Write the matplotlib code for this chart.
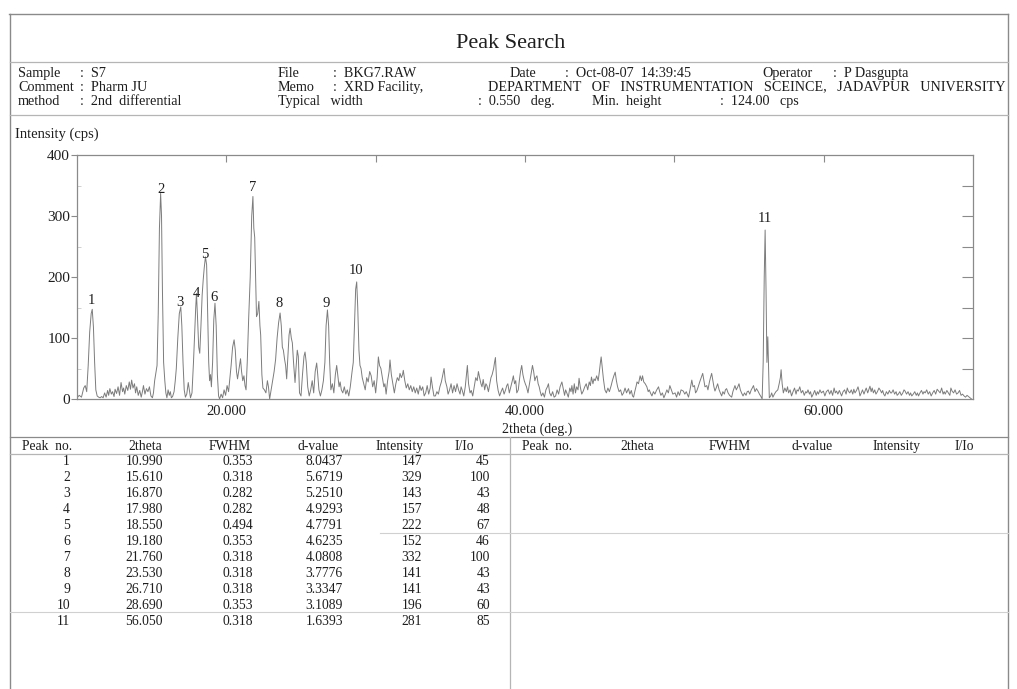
import matplotlib
matplotlib.use("Agg")
import matplotlib.pyplot as plt
from matplotlib.lines import Line2D

plt.rcParams['font.family'] = ['Liberation Serif', 'DejaVu Serif']

# ---------------- data ----------------
scan_2theta = [
    10.00, 10.15, 10.30, 10.45, 10.55, 10.65, 10.75, 10.85, 10.95, 11.02, 11.10, 11.18, 11.26, 11.35, 11.45, 11.55,
    11.65, 11.75, 11.85, 11.95, 12.05, 12.12, 12.20, 12.30, 12.38, 12.48,
    12.55, 12.65, 12.75, 12.85, 12.95, 13.05, 13.12, 13.20, 13.30, 13.40,
    13.50, 13.58, 13.66, 13.75, 13.85, 13.92, 14.00, 14.10, 14.20, 14.30,
    14.38, 14.45, 14.55, 14.65, 14.75, 14.85, 14.95, 15.05, 15.12,
    15.20, 15.28, 15.36, 15.44, 15.52, 15.60, 15.66, 15.72, 15.80, 15.88, 15.95, 16.02,
    16.10, 16.18, 16.25, 16.32, 16.40, 16.50, 16.58, 16.65, 16.75, 16.85, 16.95, 17.02,
    17.10, 17.18, 17.26, 17.35, 17.45, 17.52, 17.60, 17.70,
    17.80, 17.88, 17.95, 18.00, 18.06, 18.15, 18.22, 18.30, 18.38, 18.45, 18.52, 18.60,
    18.68, 18.75, 18.82, 18.88, 18.94, 19.00, 19.08, 19.16, 19.24, 19.32, 19.40, 19.48,
    19.55, 19.65, 19.75, 19.85, 19.95, 20.05, 20.15, 20.22, 20.32, 20.42, 20.52, 20.60,
    20.68, 20.75, 20.85, 20.95, 21.02, 21.10, 21.18, 21.25, 21.32, 21.40,
    21.50, 21.60, 21.70, 21.78, 21.84, 21.90, 21.96, 22.02, 22.10, 22.18, 22.25, 22.30,
    22.38, 22.45, 22.55, 22.65, 22.75, 22.82, 22.90, 23.00, 23.10, 23.20, 23.30, 23.40,
    23.50, 23.60, 23.68, 23.75, 23.82, 23.90, 23.97, 24.04, 24.12, 24.20, 24.27, 24.35,
    24.42, 24.50, 24.60, 24.68, 24.75, 24.82, 24.90, 25.00, 25.10, 25.20, 25.27, 25.35,
    25.45, 25.55, 25.65, 25.75, 25.85, 25.95, 26.05, 26.12, 26.20, 26.30, 26.40, 26.50,
    26.60, 26.68, 26.77, 26.85, 26.92, 27.00, 27.10, 27.20, 27.30, 27.39, 27.48, 27.55,
    27.62, 27.70, 27.80, 27.90, 28.00, 28.10, 28.20, 28.30, 28.42, 28.50, 28.58, 28.66,
    28.73, 28.80, 28.88, 28.95, 29.02, 29.10, 29.20, 29.30, 29.40, 29.50, 29.60, 29.70,
    29.80, 29.90, 30.00, 30.10, 30.18, 30.26, 30.35, 30.45, 30.55, 30.62, 30.70, 30.80,
    30.90, 30.96, 31.05, 31.15, 31.25, 31.35, 31.45, 31.55, 31.63, 31.72, 31.80, 31.85,
    31.95, 32.05, 32.15, 32.25, 32.35, 32.45, 32.55, 32.65, 32.75, 32.85, 32.96, 33.05,
    33.15, 33.25, 33.35, 33.45, 33.55, 33.65, 33.71, 33.80, 33.90, 34.00, 34.10, 34.20,
    34.30, 34.40, 34.50, 34.58, 34.66, 34.77, 34.85, 34.95, 35.05, 35.15, 35.25, 35.35,
    35.45, 35.55, 35.65, 35.72, 35.80, 35.90,
    36.00, 36.08, 36.14, 36.22, 36.32, 36.40, 36.50, 36.60, 36.70, 36.80, 36.88, 36.96,
    37.05, 37.12, 37.20, 37.30, 37.38, 37.45, 37.55, 37.65, 37.72, 37.80, 37.90, 37.96,
    38.02, 38.10, 38.20, 38.30, 38.40, 38.50, 38.60, 38.70, 38.78, 38.85, 38.95, 39.05,
    39.15, 39.22, 39.30, 39.38, 39.45, 39.55, 39.62, 39.70, 39.78, 39.86, 39.95, 40.02,
    40.10, 40.20, 40.30, 40.40, 40.50, 40.58, 40.66, 40.72, 40.80, 40.88, 40.95, 41.02,
    41.10, 41.20, 41.30, 41.40, 41.50, 41.57, 41.65, 41.75, 41.85, 41.95, 42.05, 42.15,
    42.25, 42.35, 42.47, 42.55, 42.65, 42.72, 42.80, 42.90, 43.00, 43.08, 43.14, 43.22,
    43.30, 43.38, 43.46, 43.55, 43.62, 43.70, 43.80, 43.90, 44.00, 44.10, 44.20, 44.30,
    44.38, 44.45, 44.55, 44.62, 44.70, 44.80, 44.90, 44.98, 45.05, 45.10, 45.18, 45.25,
    45.35, 45.45, 45.55, 45.65, 45.77, 45.85, 45.95, 46.04, 46.12, 46.20, 46.30, 46.40,
    46.50, 46.60, 46.70, 46.80, 46.93, 47.02, 47.12, 47.20, 47.27, 47.35, 47.45, 47.50,
    47.60, 47.71, 47.80, 47.87, 47.95, 48.05, 48.16, 48.25, 48.32, 48.40, 48.50, 48.60,
    48.70, 48.80, 48.94, 49.02, 49.10, 49.20, 49.30, 49.40, 49.50, 49.60, 49.70, 49.80,
    49.90, 50.05, 50.15, 50.25, 50.35, 50.45, 50.60, 50.70, 50.80, 50.95, 51.05, 51.17,
    51.25, 51.35, 51.42, 51.50, 51.60, 51.70, 51.80, 51.90, 51.98, 52.05, 52.17, 52.25,
    52.35, 52.42, 52.50, 52.58, 52.65, 52.72, 52.80, 52.90, 53.00, 53.08, 53.17, 53.25,
    53.35, 53.42, 53.50, 53.60, 53.70, 53.84, 53.92, 54.00, 54.06, 54.15, 54.25, 54.33,
    54.42, 54.50, 54.60, 54.70, 54.80, 54.88, 54.96, 55.05, 55.15, 55.22, 55.30, 55.40,
    55.50, 55.60, 55.70, 55.80, 55.88,
    55.95, 56.02, 56.08, 56.14, 56.20, 56.26, 56.30, 56.36, 56.45, 56.52, 56.60, 56.70,
    56.80, 56.93, 57.02, 57.10, 57.15, 57.22, 57.30, 57.40, 57.50, 57.58, 57.65, 57.75,
    57.85, 57.95, 58.05, 58.15, 58.22, 58.30, 58.40, 58.50, 58.60, 58.70, 58.80, 58.87,
    58.95, 59.05, 59.12, 59.20, 59.30, 59.40, 59.50, 59.58, 59.65, 59.75, 59.85, 59.98,
    60.08, 60.18, 60.30, 60.40, 60.50, 60.60, 60.70, 60.78, 60.86, 60.95, 61.05, 61.12,
    61.20, 61.30, 61.40, 61.50, 61.58, 61.65, 61.75, 61.85, 61.95, 62.02, 62.10, 62.20,
    62.30, 62.38, 62.43, 62.52, 62.60, 62.70, 62.77, 62.85, 62.95, 63.02, 63.10, 63.18,
    63.25, 63.33, 63.42, 63.50, 63.60, 63.70, 63.78, 63.88, 63.95, 64.02, 64.10, 64.20,
    64.30, 64.40, 64.48, 64.55, 64.65, 64.75, 64.85, 64.92, 65.00, 65.10, 65.20, 65.30,
    65.38, 65.45, 65.55, 65.65, 65.75, 65.82, 65.90, 66.00, 66.10, 66.20, 66.28, 66.35,
    66.45, 66.55, 66.65, 66.72, 66.80, 66.90, 67.00, 67.10, 67.20, 67.30, 67.40, 67.50,
    67.60, 67.70, 67.80, 67.90, 68.00, 68.07, 68.14, 68.25, 68.35, 68.45, 68.52, 68.60,
    68.70, 68.80, 68.90, 69.00, 69.10, 69.20, 69.30, 69.40, 69.50, 69.60, 69.70, 69.80, 69.90,
]
scan_cps = [
    2, 6, 3, 18, 22, 12, 55, 110, 140, 147, 118, 60, 15, 5, 3, 2,
    4, 2, 10, 3, 14, 6, 17, 8, 12, 4,
    16, 9, 20, 6, 27, 12, 18, 8, 22, 14,
    28, 16, 31, 18, 25, 10, 20, 6, 14, 3,
    12, 22, 8, 17, 12, 20, 5, 2, 10,
    30, 42, 55, 140, 280, 337, 300, 180, 60, 30, 10, 2,
    15, 6, 12, 2, 4, 12, 30, 50, 100, 140, 151, 120,
    60, 15, 3, 8, 27, 15, 2, 10,
    60, 110, 150, 173, 140, 85, 75, 120, 170, 195, 215, 233,
    220, 140, 60, 30, 40, 20, 60, 130, 157, 120, 40, 5,
    0, 8, 2, 15, 6, 22, 12, 30, 55, 85, 97, 80,
    45, 33, 50, 66, 45, 30, 38, 22, 15, 60,
    135, 200, 300, 332, 280, 265, 200, 135, 140, 160, 120, 105,
    40, 18, 15, 10, 30, 20, 0, 15, 30, 45, 65, 100,
    125, 141, 120, 85, 80, 65, 55, 33, 70, 105, 116, 100,
    92, 60, 27, 55, 80, 70, 10, 5, 40, 70, 77, 60,
    20, 5, 15, 30, 10, 45, 59, 40, 15, 5, 15, 30,
    60, 120, 146, 120, 60, 15, 25, 10, 40, 55, 35, 20,
    28, 15, 10, 20, 8, 15, 5, 20, 45, 60, 120, 180,
    192, 150, 80, 55, 50, 35, 25, 15, 35, 28, 45, 38,
    20, 30, 10, 35, 69, 55, 50, 35, 20, 25, 8, 30,
    45, 64, 40, 25, 10, 25, 35, 30, 42, 35, 40, 47,
    30, 18, 25, 15, 22, 12, 20, 10, 18, 8, 22, 14,
    20, 5, 10, 22, 8, 18, 36, 20, 5, 5, 12, 8,
    20, 28, 40, 50, 30, 20, 8, 15, 25, 10, 22, 12,
    25, 15, 8, 20, 14, 5,
    20, 40, 55, 25, 10, 14, 5, 20, 35, 30, 45, 35,
    25, 20, 32, 15, 25, 22, 12, 25, 35, 40, 50, 60,
    68, 30, 14, 5, 12, 18, 8, 15, 22, 25, 10, 20,
    30, 38, 25, 30, 10, 15, 30, 45, 55, 40, 30, 25,
    20, 10, 25, 40, 55, 45, 30, 35, 38, 25, 20, 12,
    5, 10, 3, 15, 20, 25, 10, 5, 12, 3, 5, 15,
    8, 20, 28, 18, 6, 15, 10, 3, 18, 12, 22, 8,
    25, 10, 20, 15, 34, 20, 8, 13, 20, 25, 15, 28,
    22, 36, 25, 33, 30, 38, 30, 45, 60, 69, 50, 33,
    15, 10, 18, 12, 22, 30, 38, 44, 30, 20, 12, 15,
    6, 10, 18, 10, 17, 8, 14, 5, 3, 12, 22, 28,
    25, 38, 30, 38, 28, 25, 20, 12, 15, 10, 5, 12,
    8, 14, 20, 12, 6, 10, 2, 8, 15, 10, 22, 15,
    8, 10, 3, 12, 6, 15, 13, 8, 12, 3, 15, 31,
    20, 22, 10, 13, 20, 28, 35, 42, 30, 20, 22, 15,
    28, 35, 42, 30, 20, 13, 18, 25, 15, 10, 5, 12,
    8, 15, 17, 10, 6, 3, 12, 18, 22, 15, 20, 25,
    15, 10, 5, 10, 6, 12, 13, 8, 15, 18, 22, 12,
    17, 13, 8, 4, 0,
    60, 200, 277, 180, 60, 102, 60, 2, 5, 10, 3, 8,
    12, 15, 25, 35, 48, 25, 10, 18, 12, 20, 10, 15,
    5, 12, 18, 8, 15, 13, 20, 10, 14, 6, 12, 10,
    15, 8, 12, 3, 8, 14, 6, 12, 8, 15, 10, 13,
    5, 12, 15, 8, 14, 6, 18, 10, 13, 8, 14, 10,
    5, 12, 15, 8, 18, 13, 10, 15, 8, 16, 10, 14,
    20, 12, 5, 10, 15, 8, 13, 18, 10, 15, 21, 12,
    18, 10, 15, 8, 12, 18, 15, 10, 14, 8, 5, 12,
    8, 14, 10, 10, 15, 8, 12, 6, 8, 12, 6, 10,
    15, 13, 8, 12, 6, 10, 5, 8, 12, 6, 10, 5,
    10, 14, 8, 12, 10, 15, 8, 12, 5, 10, 14, 8,
    16, 13, 10, 18, 8, 12, 8, 14, 10, 6, 18, 13,
    10, 15, 8, 10, 14, 6, 8, 5, 3, 6, 4, 2, 0,
]

peak_no = [1, 2, 3, 4, 5, 6, 7, 8, 9, 10, 11]
peak_2theta = [10.990, 15.610, 16.870, 17.980, 18.550, 19.180, 21.760, 23.530, 26.710, 28.690, 56.050]
peak_fwhm = [0.353, 0.318, 0.282, 0.282, 0.494, 0.353, 0.318, 0.318, 0.318, 0.353, 0.318]
peak_d = [8.0437, 5.6719, 5.2510, 4.9293, 4.7791, 4.6235, 4.0808, 3.7776, 3.3347, 3.1089, 1.6393]
peak_int = [147, 329, 143, 157, 222, 152, 332, 141, 141, 196, 281]
peak_rel = [45, 100, 43, 48, 67, 46, 100, 43, 43, 60, 85]

y_ticks = [0, 100, 200, 300, 400]
x_ticks = [20, 40, 60]
x_ticklabels = ["20.000", "40.000", "60.000"]
table_headers = ["Peak  no.", "2theta", "FWHM", "d-value", "Intensity", "I/Io"]

assert len(scan_2theta) == len(scan_cps), (len(scan_2theta), len(scan_cps))

# ---------------- figure ----------------
W, H = 1017, 689
fig = plt.figure(figsize=(W / 100, H / 100), dpi=100)
fig.patch.set_facecolor('white')

TXT = '#1e1e1e'
FR = '#8a8a8a'
LN = '#b5b5b5'


def fx(x):
    return x / W


def fy(y):
    return 1 - y / H


def hline(y, x0, x1, color=LN, lw=0.9):
    fig.add_artist(Line2D([fx(x0), fx(x1)], [fy(y), fy(y)], transform=fig.transFigure,
                          color=color, lw=lw))


def vline(x, y0, y1, color=LN, lw=0.9):
    fig.add_artist(Line2D([fx(x), fx(x)], [fy(y0), fy(y1)], transform=fig.transFigure,
                          color=color, lw=lw))


def txt(x, y, s, size=10, ha='left', **kw):
    # y is the visual centre of capital letters; place on a common baseline
    base = y + 0.33 * size * 100 / 72
    fig.text(fx(x), fy(base), s, fontsize=size, ha=ha, va='baseline', color=TXT, **kw)


# page frame
hline(14, 9, 1008, FR, 1.0)
vline(10, 14, 689, FR, 1.0)
vline(1008, 14, 689, FR, 1.0)
hline(62, 10, 1008, LN)
hline(115, 10, 1008, LN)

# title
txt(511, 41, "Peak Search", size=16, ha='center')

# header block
r1, r2, r3 = 72, 86, 100
hs = 10.2
txt(18, r1, "Sample", hs); txt(80, r1, ":  S7", hs)
txt(278, r1, "File", hs); txt(333, r1, ":  BKG7.RAW", hs)
txt(510, r1, "Date", hs); txt(565, r1, ":  Oct-08-07  14:39:45", hs)
txt(762, r1, "Operator", hs); txt(833, r1, ":  P Dasgupta", hs)
txt(18, r2, "Comment", hs); txt(80, r2, ":  Pharm JU", hs)
txt(278, r2, "Memo", hs); txt(333, r2, ":  XRD Facility,", hs)
txt(488, r2, "DEPARTMENT   OF   INSTRUMENTATION   SCEINCE,   JADAVPUR   UNIVERSITY", hs)
txt(18, r3, "method", hs); txt(80, r3, ":  2nd  differential", hs)
txt(278, r3, "Typical   width", hs); txt(478, r3, ":  0.550   deg.", hs)
txt(592, r3, "Min.  height", hs); txt(720, r3, ":  124.00   cps", hs)

# ---------------- pattern axes ----------------
ax_l, ax_r, ax_t, ax_b = 77, 973, 155, 399
ax = fig.add_axes([fx(ax_l), fy(ax_b), (ax_r - ax_l) / W, (ax_b - ax_t) / H])
ax.plot(scan_2theta, scan_cps, color='#7c7c7c', lw=0.7)
ax.set_xlim(10, 70)
ax.set_ylim(0, 400)
for sp in ax.spines.values():
    sp.set_color(FR)
    sp.set_linewidth(0.9)

ax.set_yticks(y_ticks)
ax.set_yticklabels([str(v) for v in y_ticks], fontsize=11, color=TXT)
ax.set_yticks([50, 150, 250, 350], minor=True)
ax.tick_params(axis='y', which='major', direction='out', length=4, width=0.8, color=FR, pad=1)
ax.tick_params(axis='y', which='minor', direction='in', length=3, width=0.6, color='#c8c8c8')
ax.set_xticks(x_ticks)
ax.set_xticklabels(x_ticklabels, fontsize=10.5, color=TXT)
ax.tick_params(axis='x', which='major', length=0, pad=4)

axr = ax.twinx()
axr.set_ylim(0, 400)
axr.set_yticks([50, 100, 150, 200, 250, 300, 350])
axr.tick_params(axis='y', direction='in', length=8, width=0.8, color=FR, labelright=False)
for sp in axr.spines.values():
    sp.set_visible(False)

axt = ax.twiny()
axt.set_xlim(10, 70)
axt.set_xticks([20, 30, 40, 50, 60])
axt.tick_params(axis='x', direction='in', length=5, width=0.8, color=FR, labeltop=False)
for sp in axt.spines.values():
    sp.set_visible(False)

for n, t, I in zip(peak_no, peak_2theta, peak_int):
    ax.annotate(str(n), (t, I), xytext=(0, 2), textcoords='offset points',
                ha='center', va='bottom', fontsize=10.5, color=TXT)

txt(15, 133, "Intensity (cps)", 10.5)
txt(537, 428, "2theta (deg.)", 10, ha='center')

# ---------------- table ----------------
hline(437, 10, 1008, FR, 0.9)
hline(454, 10, 1008, LN)
vline(510, 437, 689, LN)
hline(533, 380, 1008, '#d0d0d0', 0.8)
hline(612, 10, 1008, '#d0d0d0', 0.8)

ts = 9.8
hdr_y = 446
left_hdr_x = [22, 145, 230, 318, 400, 455]
right_hdr_x = [522, 637, 730, 812, 897, 955]
hdr_ha = ['left', 'center', 'center', 'center', 'center', 'left']
for xs in (left_hdr_x, right_hdr_x):
    for x, s, ha in zip(xs, table_headers, hdr_ha):
        txt(x, hdr_y, s, ts, ha=ha)

col_right = [70, 163, 253, 343, 422, 490]
row0, dy = 461, 16.0
for i in range(len(peak_no)):
    y = row0 + i * dy
    vals = [str(peak_no[i]), f"{peak_2theta[i]:.3f}", f"{peak_fwhm[i]:.3f}",
            f"{peak_d[i]:.4f}", str(peak_int[i]), str(peak_rel[i])]
    for x, s in zip(col_right, vals):
        txt(x, y, s, ts, ha='right')

fig.savefig("out.png", dpi=100, facecolor='white')
